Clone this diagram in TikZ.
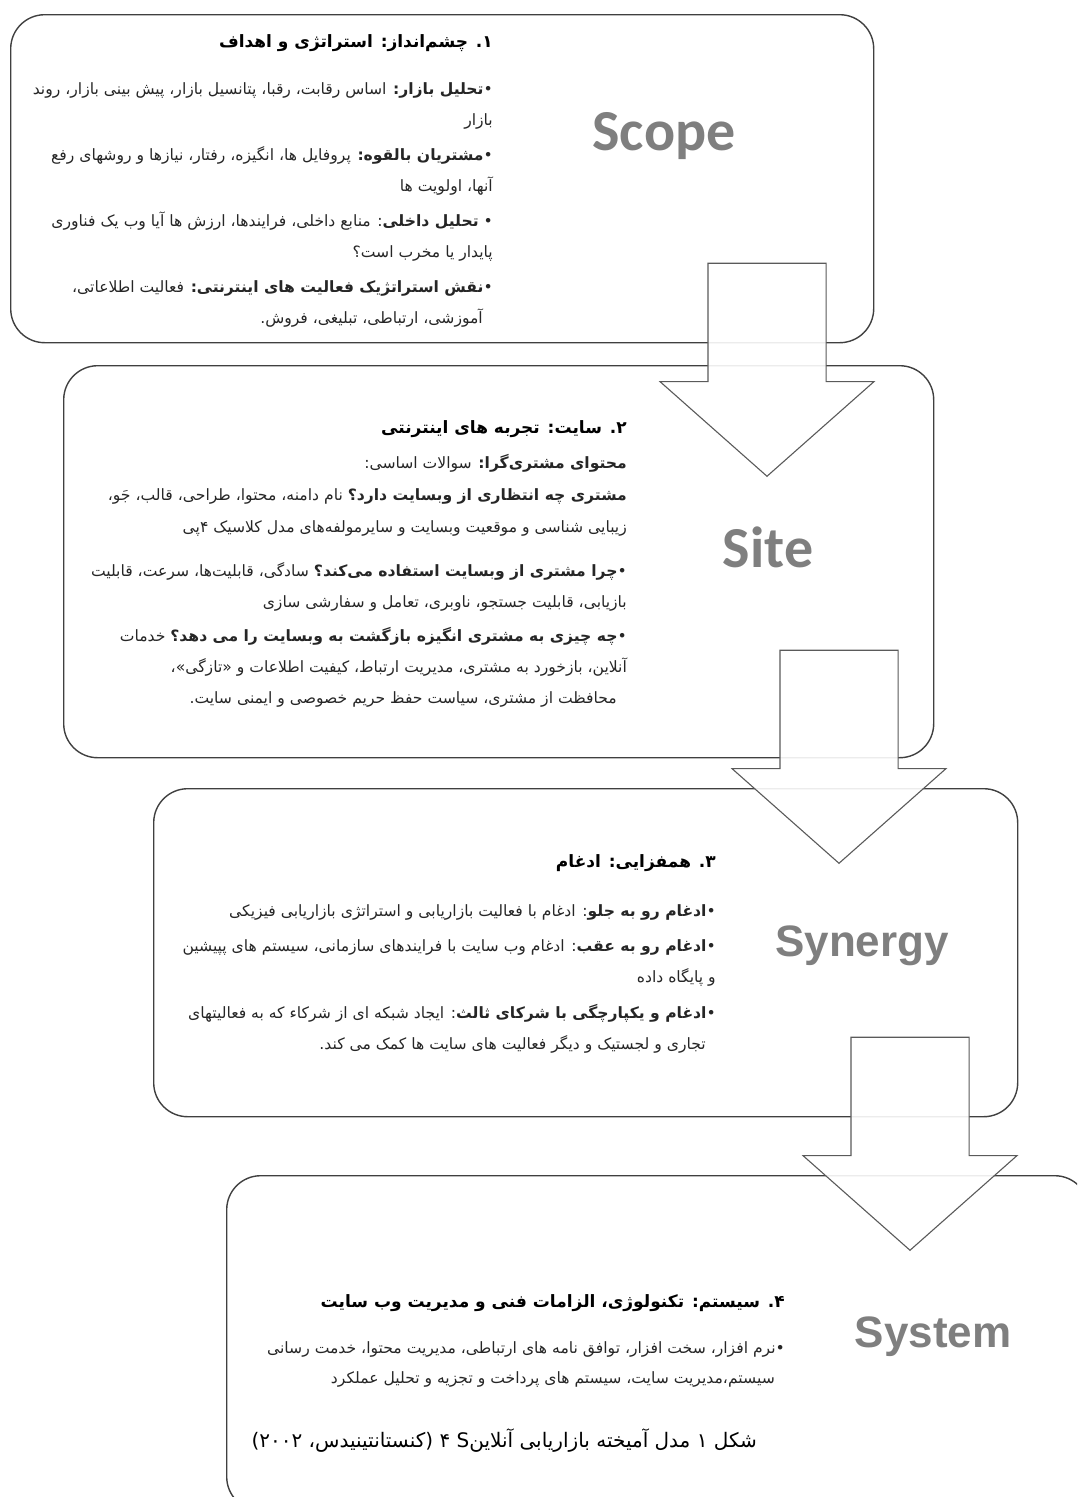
\documentclass[tikz,border=0pt]{standalone}
\usepackage{fontspec}
\usepackage{tikz}
\usetikzlibrary{shapes,arrows,positioning}
\TeXXeTstate=1
\newfontfamily\arabicfont[Script=Arabic]{DejaVu Sans}
\newfontfamily\carlitofont{Carlito}
\newfontfamily\arialfont{Liberation Sans}
\definecolor{labelgray}{RGB}{127,127,127}
\definecolor{boxline}{RGB}{64,64,64}
\definecolor{arrowline}{RGB}{90,90,90}
\newcommand{\rl}[1]{\beginR#1\endR}
\newcommand{\ind}{\hspace*{10pt}}
\tikzset{
    stagebox/.style={
        rectangle,
        rounded corners=34pt,
        draw=boxline,
        line width=1.4pt,
        anchor=north west,
        inner sep=0pt
    },
    downarrow/.style={
        single arrow,
        draw=arrowline,
        line width=1.1pt,
        fill=white,
        fill opacity=0.9,
        shape border rotate=270,
        inner sep=58.5pt,
        minimum height=213pt,
        single arrow head extend=48pt,
        single arrow tip angle=97,
        anchor=tip
    },
    stagename/.style={
        text=labelgray,
        anchor=base,
        inner sep=0pt
    },
    headline/.style={
        font=\arabicfont\bfseries\fontsize{17}{20}\selectfont,
        anchor=base east,
        inner sep=0pt
    },
    bodytext/.style={
        font=\arabicfont\fontsize{15.6}{31}\selectfont,
        text=black!85,
        align=right,
        anchor=north east,
        inner sep=0pt
    }
}
\begin{document}
\begin{tikzpicture}[x=1pt,y=-1pt]
    \clip (0,0) rectangle (1077,1497);
    \node[stagebox, minimum width=863pt, minimum height=328pt] (scopebox) at (10,14) {};
    \node[stagebox, minimum width=870pt, minimum height=392pt] (sitebox) at (63,365) {};
    \node[stagebox, minimum width=864pt, minimum height=328pt] (synergybox) at (153,788) {};
    \node[stagebox, minimum width=862pt, minimum height=335pt] (systembox) at (226,1175) {};

    \node[stagename, font=\carlitofont\bfseries\fontsize{58}{58}\selectfont] (scope) at (664,150) {Scope};
    \node[stagename, font=\carlitofont\bfseries\fontsize{58}{58}\selectfont] (site) at (768,567) {Site};
    \node[stagename, font=\arialfont\bfseries\fontsize{44}{44}\selectfont] (synergy) at (862,956) {Synergy};
    \node[stagename, font=\arialfont\bfseries\fontsize{44}{44}\selectfont] (system) at (933,1347) {System};

    \node[headline] (scopehead) at (493,47) {\rl{۱. چشم‌انداز: استراتژی و اهداف}};
    \node[bodytext] (scopetext) at (493,82) {
        \rl{•\textbf{تحلیل بازار:} اساس رقابت، رقبا، پتانسیل بازار، پیش بینی بازار، روند}\\
        \rl{بازار}\ind\\[4pt]
        \rl{•\textbf{مشتریان بالقوه:} پروفایل ها، انگیزه، رفتار، نیازها و روشهای رفع}\\
        \rl{آنها، اولویت ها}\ind\\[4pt]
        \rl{• \textbf{تحلیل داخلی}: منابع داخلی، فرایندها، ارزش ها آیا وب یک فناوری}\\
        \rl{پایدار یا مخرب است؟}\ind\\[4pt]
        \rl{•\textbf{نقش استراتژیک فعالیت های اینترنتی:} فعالیت اطلاعاتی،}\\
        \rl{آموزشی، ارتباطی، تبلیغی، فروش.}\ind
    };

    \node[headline] (sitehead) at (627,433) {\rl{۲. سایت: تجربه های  اینترنتی}};
    \node[bodytext] (sitetext) at (627,454) {
        \rl{\textbf{محتوای مشتری‌گرا:} سوالات اساسی:}\\[1pt]
        \rl{\textbf{مشتری چه انتظاری از وبسایت دارد؟} نام دامنه، محتوا، طراحی، قالب، جَو،}\\[1pt]
        \rl{زیبایی شناسی و موقعیت وبسایت و سایرمولفه‌های مدل کلاسیک ۴پی}\\[13pt]
        \rl{•\textbf{چرا مشتری از وبسایت استفاده می‌کند؟} سادگی، قابلیت‌ها، سرعت، قابلیت}\\
        \rl{بازیابی، قابلیت جستجو، ناوبری، تعامل و سفارشی سازی}\ind\\[3pt]
        \rl{•\textbf{چه چیزی به مشتری  انگیزه بازگشت به وبسایت را می دهد؟} خدمات}\\
        \rl{آنلاین، بازخورد به مشتری، مدیریت ارتباط، کیفیت اطلاعات و «تازگی»،}\ind\\
        \rl{محافظت از مشتری، سیاست حفظ حریم خصوصی و ایمنی سایت.}\ind
    };

    \node[headline] (synergyhead) at (716,867) {\rl{۳. همفزایی: ادغام}};
    \node[bodytext] (synergytext) at (716,904) {
        \rl{•\textbf{ادغام رو به جلو}: ادغام با فعالیت بازاریابی و استراتژی بازاریابی فیزیکی}\\[4pt]
        \rl{•\textbf{ادغام رو به عقب}: ادغام وب سایت با فرایندهای سازمانی، سیستم های پپیشین}\\
        \rl{و پایگاه داده}\ind\\[5pt]
        \rl{•\textbf{ادغام و یکپارچگی با شرکای ثالث}: ایجاد شبکه ای از شرکاء که به فعالیتهای}\\
        \rl{تجاری و لجستیک و دیگر فعالیت های سایت ها کمک می کند.}\ind
    };

    \node[headline] (systemhead) at (785,1307) {\rl{۴. سیستم: تکنولوژی، الزامات فنی و مدیریت وب سایت}};
    \node[bodytext] (systemtext) at (785,1341) {
        \rl{•نرم افزار، سخت افزار، توافق نامه های ارتباطی، مدیریت محتوا، خدمت رسانی}\\[-1pt]
        \rl{سیستم،مدیریت سایت، سیستم های پرداخت و تجزیه و تحلیل عملکرد}\ind
    };
    \node[headline, font=\arabicfont\fontsize{20}{22}\selectfont] (caption) at (757,1447)
        {\rl{شکل ۱ مدل آمیخته بازاریابی آنلاینS ۴  (کنستانتینیدس، ۲۰۰۲)}};

    \node[downarrow] (scopetosite) at (767,477) {};
    \node[downarrow] (sitetosynergy) at (839,864) {};
    \node[downarrow] (synergytosystem) at (910,1251) {};
\end{tikzpicture}
\end{document}
